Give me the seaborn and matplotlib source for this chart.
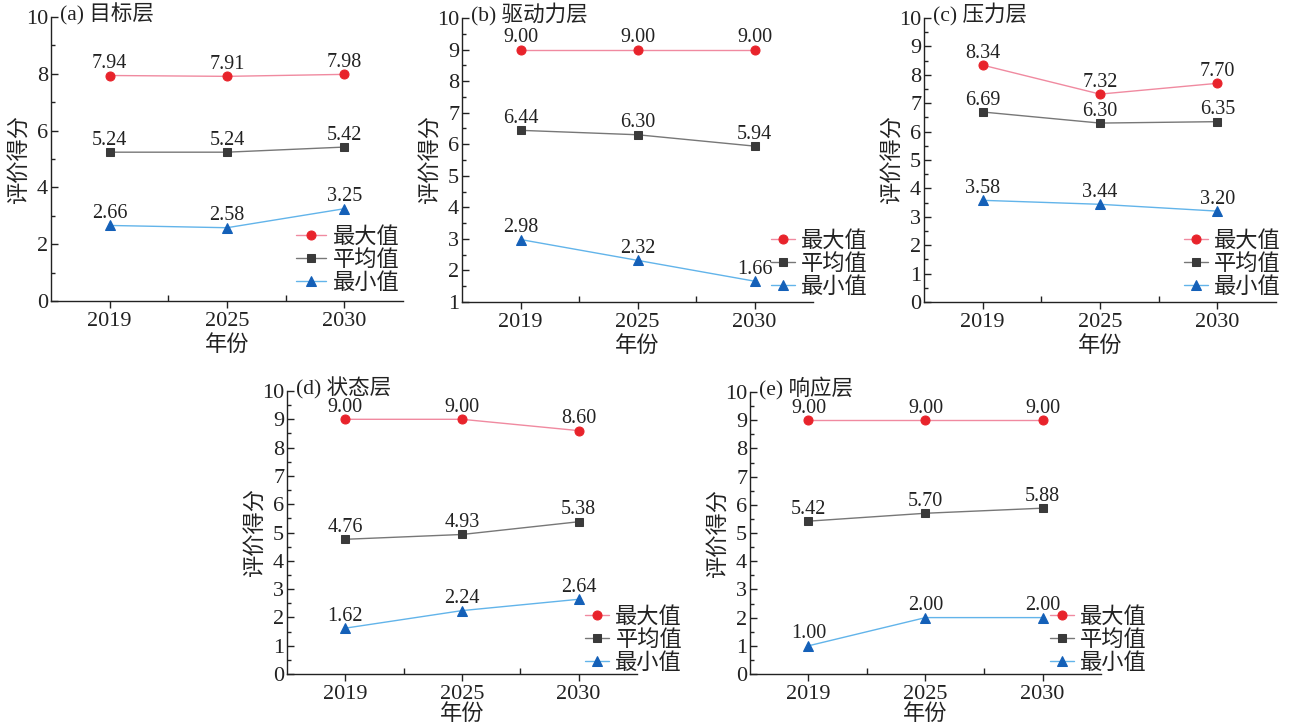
import numpy as np
import pandas as pd
import matplotlib
matplotlib.use('Agg')
import matplotlib.pyplot as plt
import seaborn as sns
from matplotlib.ticker import MultipleLocator, FixedLocator

# ---------------- data ----------------
years = ['2019', '2025', '2030']
series_names = ['最大值', '平均值', '最小值']
panel_titles = ['(a) 目标层', '(b) 驱动力层', '(c) 压力层', '(d) 状态层', '(e) 响应层']

a_max = [7.94, 7.91, 7.98]
a_mean = [5.24, 5.24, 5.42]
a_min = [2.66, 2.58, 3.25]

b_max = [9.00, 9.00, 9.00]
b_mean = [6.44, 6.30, 5.94]
b_min = [2.98, 2.32, 1.66]

c_max = [8.34, 7.32, 7.70]
c_mean = [6.69, 6.30, 6.35]
c_min = [3.58, 3.44, 3.20]

d_max = [9.00, 9.00, 8.60]
d_mean = [4.76, 4.93, 5.38]
d_min = [1.62, 2.24, 2.64]

e_max = [9.00, 9.00, 9.00]
e_mean = [5.42, 5.70, 5.88]
e_min = [1.00, 2.00, 2.00]

panels = [
    (a_max, a_mean, a_min),
    (b_max, b_mean, b_min),
    (c_max, c_mean, c_min),
    (d_max, d_mean, d_min),
    (e_max, e_mean, e_min),
]

# ---------------- style ----------------
sns.set_style('ticks')
plt.rcParams['font.family'] = ['Liberation Serif', 'Noto Sans CJK SC']
plt.rcParams['axes.unicode_minus'] = False

line_colors = ['#F08AA0', '#777777', '#62B4EA']
marker_colors = ['#E8232B', '#3A3A3A', '#1460B8']
markers = ['o', 's', '^']
marker_sizes = [6.5, 5.5, 6.5]

W, H = 1300, 725
# (left_px, top_px, right_px, bottom_px)
boxes = [
    (51, 17, 403, 301),
    (462, 18, 813, 302),
    (924, 18, 1276, 302),
    (287, 391, 637, 674),
    (750, 392, 1101, 674),
]
ylims = [(0, 10), (1, 10), (0, 10), (0, 10), (0, 10)]
ymajor = [2, 1, 1, 1, 1]
legend_x = [0.99, 1.157, 1.014, 1.129, 1.131]
legend_y = [0.025, 0.015, 0.015, 0.0, 0.0]
handle_len = [1.35, 1.05, 1.05, 1.05, 1.05]
xlabel_pad = [3, 3, 3, 0, 0]

fig = plt.figure(figsize=(13, 7.25), dpi=100)
pos = np.arange(len(years))

for i, (vals, title) in enumerate(zip(panels, panel_titles)):
    l, t, r, b = boxes[i]
    ax = fig.add_axes([l / W, 1 - b / H, (r - l) / W, (b - t) / H])
    for k, name in enumerate(series_names):
        df = pd.DataFrame({'x': pos, 'y': vals[k]})
        sns.lineplot(data=df, x='x', y='y', ax=ax, color=line_colors[k],
                     linewidth=1.0, marker=markers[k], markersize=marker_sizes[k],
                     markerfacecolor=marker_colors[k], markeredgecolor=marker_colors[k],
                     label=name, clip_on=False)
        for xx, yy in zip(pos, vals[k]):
            ax.annotate(f'{yy:.2f}', (xx, yy), xytext=(0, 8.5), textcoords='offset points',
                        ha='center', va='center', fontsize=14.5, color='#222222')

    ax.set_xlim(-0.5, len(years) - 0.5)
    ax.set_ylim(*ylims[i])
    ax.xaxis.set_major_locator(FixedLocator(pos))
    ax.set_xticklabels(years)
    ax.xaxis.set_minor_locator(FixedLocator(pos[:-1] + 0.5))
    ax.yaxis.set_major_locator(MultipleLocator(ymajor[i]))
    ax.yaxis.set_minor_locator(MultipleLocator(ymajor[i] / 2))

    sns.despine(ax=ax)
    for sp in ['left', 'bottom']:
        ax.spines[sp].set_linewidth(1.0)
        ax.spines[sp].set_color('#222222')
    ax.tick_params(axis='x', which='major', direction='out', length=5, width=1,
                   labelsize=16, pad=3, colors='#222222')
    ax.tick_params(axis='x', which='minor', direction='in', length=4, width=1, colors='#222222')
    ax.tick_params(axis='y', which='major', direction='in', length=5, width=1,
                   labelsize=16, pad=2, colors='#222222')
    ax.tick_params(axis='y', which='minor', direction='in', length=3, width=1, colors='#222222')

    ax.set_xlabel('年份', fontsize=16, labelpad=xlabel_pad[i], color='#222222')
    ax.set_ylabel('评价得分', fontsize=16, labelpad=-3, color='#222222')
    ax.text(0.025, 1.01, title, transform=ax.transAxes, ha='left', va='center',
            fontsize=15.5, color='#222222')

    leg = ax.legend(loc='lower right', bbox_to_anchor=(legend_x[i], legend_y[i]),
                    frameon=False, fontsize=16, borderaxespad=0, borderpad=0,
                    labelspacing=0.1, handlelength=handle_len[i], handletextpad=0.3)
    for txt in leg.get_texts():
        txt.set_color('#222222')

fig.savefig('out.png', dpi=100)
